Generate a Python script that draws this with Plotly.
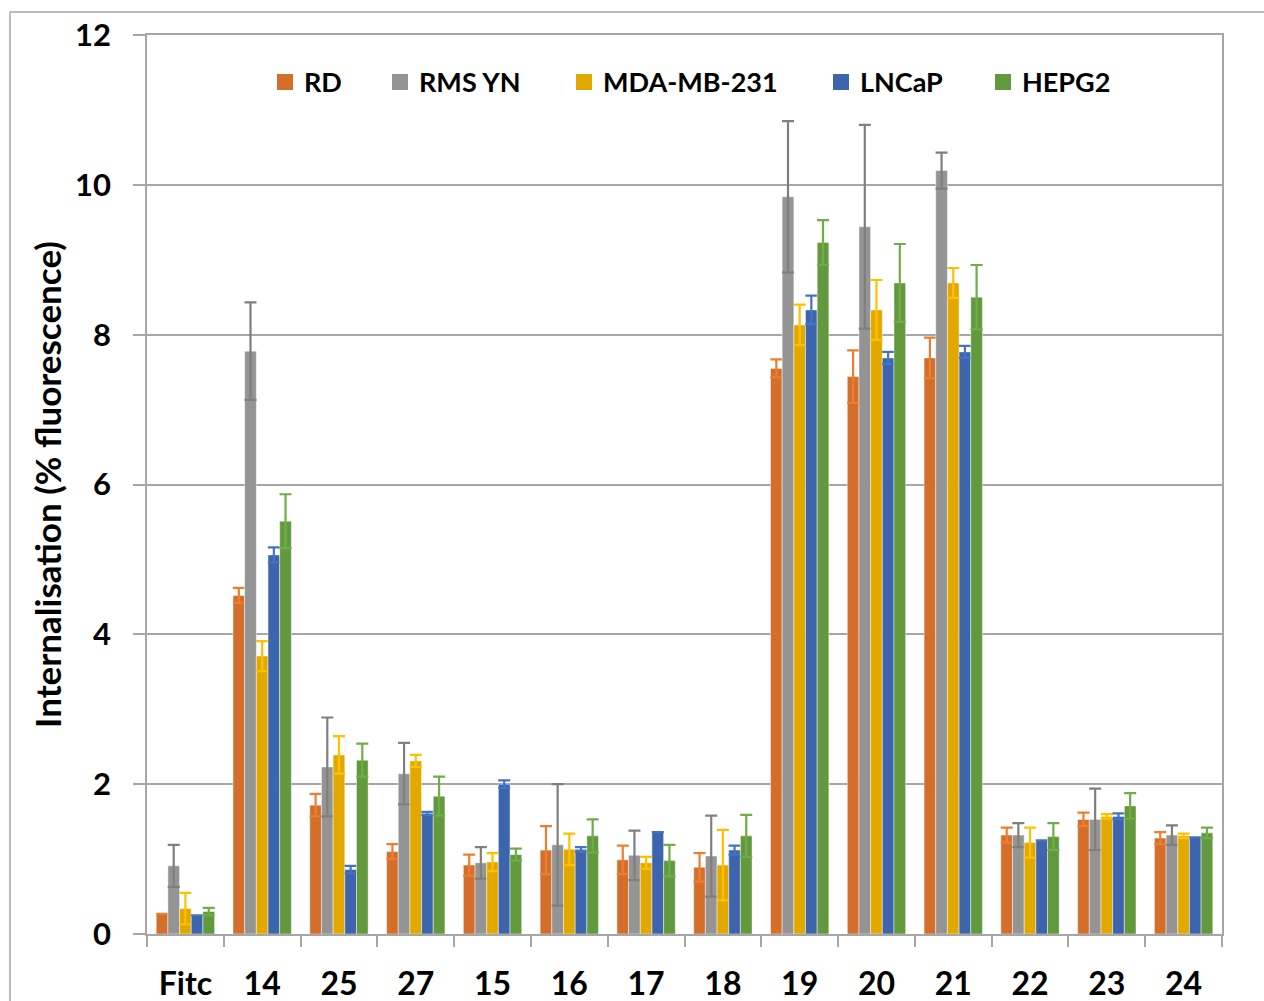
import plotly.graph_objects as go

categories = ["Fitc", "14", "25", "27", "15", "16", "17", "18", "19", "20", "21", "22", "23", "24"]
series_names = ["RD", "RMS YN", "MDA-MB-231", "LNCaP", "HEPG2"]

rd = [0.27, 4.52, 1.72, 1.10, 0.92, 1.12, 0.99, 0.89, 7.55, 7.44, 7.69, 1.32, 1.53, 1.28]
rd_err = [0.0, 0.10, 0.15, 0.10, 0.14, 0.32, 0.19, 0.19, 0.12, 0.35, 0.27, 0.10, 0.09, 0.08]

rms = [0.91, 7.78, 2.23, 2.14, 0.95, 1.19, 1.05, 1.04, 9.84, 9.44, 10.19, 1.32, 1.53, 1.32]
rms_err = [0.28, 0.65, 0.66, 0.41, 0.21, 0.81, 0.33, 0.54, 1.01, 1.36, 0.24, 0.16, 0.41, 0.13]

mda = [0.34, 3.71, 2.39, 2.31, 0.96, 1.13, 0.95, 0.92, 8.13, 8.33, 8.69, 1.22, 1.57, 1.31]
mda_err = [0.21, 0.20, 0.25, 0.08, 0.12, 0.21, 0.08, 0.47, 0.27, 0.40, 0.20, 0.20, 0.03, 0.03]

lncap = [0.25, 5.06, 0.86, 1.61, 2.00, 1.13, 1.36, 1.12, 8.33, 7.69, 7.77, 1.25, 1.57, 1.29]
lncap_err = [0.0, 0.10, 0.05, 0.02, 0.05, 0.03, 0.0, 0.06, 0.19, 0.08, 0.08, 0.0, 0.04, 0.0]

hepg2 = [0.30, 5.51, 2.32, 1.84, 1.06, 1.31, 0.98, 1.31, 9.23, 8.69, 8.50, 1.30, 1.71, 1.35]
hepg2_err = [0.05, 0.36, 0.22, 0.26, 0.08, 0.22, 0.21, 0.28, 0.30, 0.52, 0.43, 0.18, 0.17, 0.07]

values = [rd, rms, mda, lncap, hepg2]
errors = [rd_err, rms_err, mda_err, lncap_err, hepg2_err]
bar_colors = ["#D36F2B", "#949494", "#E1A900", "#3D65AD", "#62993E"]
err_colors = ["#ED7D31", "#7F7F7F", "#FFC000", "#4472C4", "#70AD47"]

FONT = "Lato"

fig = go.Figure()
for name, vals, errs, bc, ec in zip(series_names, values, errors, bar_colors, err_colors):
    fig.add_trace(go.Bar(
        x=categories, y=vals, name=name,
        marker=dict(color=bc, line=dict(color="rgba(255,255,255,0.45)", width=1)),
        error_y=dict(type="data", array=errs, visible=True, color=ec, thickness=2.2, width=6),
    ))

# page body margin is removed, so figure pixels == page pixels
L, T, R, B = 147, 35, 1222, 934
W, H = 1264, 1001
pw, ph = R - L, B - T


def px(xp):
    return (xp - L) / pw


def py(yp):
    return 1 - (yp - T) / ph


shapes = [
    dict(type="line", xref="paper", yref="paper", x0=px(10), x1=px(1500), y0=py(12), y1=py(12),
         line=dict(color="#A6A6A6", width=1.5), layer="below"),
    dict(type="line", xref="paper", yref="paper", x0=px(10), x1=px(10), y0=py(12), y1=py(1300),
         line=dict(color="#A6A6A6", width=1.5), layer="below"),
]
annotations = []
legend_left = [277, 392, 576, 833, 995]
for name, c, xl in zip(series_names, bar_colors, legend_left):
    shapes.append(dict(type="rect", xref="paper", yref="paper",
                       x0=px(xl), x1=px(xl + 16), y0=py(90), y1=py(74),
                       fillcolor=c, line=dict(width=0)))
    annotations.append(dict(xref="paper", yref="paper", x=px(xl + 25), y=py(82),
                            xanchor="left", yanchor="middle", text=name, showarrow=False,
                            font=dict(family=FONT, size=27, color="black", weight="bold")))

fig.update_layout(
    width=W, height=H,
    margin=dict(l=L, r=W - R, t=T, b=H - B, pad=0),
    paper_bgcolor="white", plot_bgcolor="white",
    barmode="group", bargap=0.24, bargroupgap=0,
    font=dict(family=FONT, color="black"),
    showlegend=False,
    shapes=shapes,
    annotations=annotations,
)

fig.update_xaxes(
    type="category", range=[-0.5, 13.5], automargin=False,
    showline=True, linecolor="#A6A6A6", linewidth=1.5, mirror=True,
    ticks="outside", tickson="boundaries", ticklen=11, tickcolor="#A6A6A6", tickwidth=1.5,
    tickfont=dict(family=FONT, size=32, color="black", weight="bold"),
    ticklabelstandoff=21, showgrid=False,
)
fig.update_yaxes(
    range=[0, 12], dtick=2, tick0=0, automargin=False,
    showline=True, linecolor="#A6A6A6", linewidth=1.5, mirror=True,
    ticks="outside", ticklen=12, tickcolor="#A6A6A6", tickwidth=1.5,
    showgrid=True, gridcolor="#A6A6A6", gridwidth=1.5, zeroline=False,
    tickfont=dict(family=FONT, size=31, color="black", weight="bold"),
    ticklabelstandoff=16,
    title=dict(text="Internalisation (% fluorescence)", standoff=3,
               font=dict(family=FONT, size=35, color="black", weight="bold")),
)

fig.write_html(
    "out.html",
    config={"displayModeBar": False},
    post_script="document.body.style.margin='0';document.body.style.overflow='hidden';",
)
